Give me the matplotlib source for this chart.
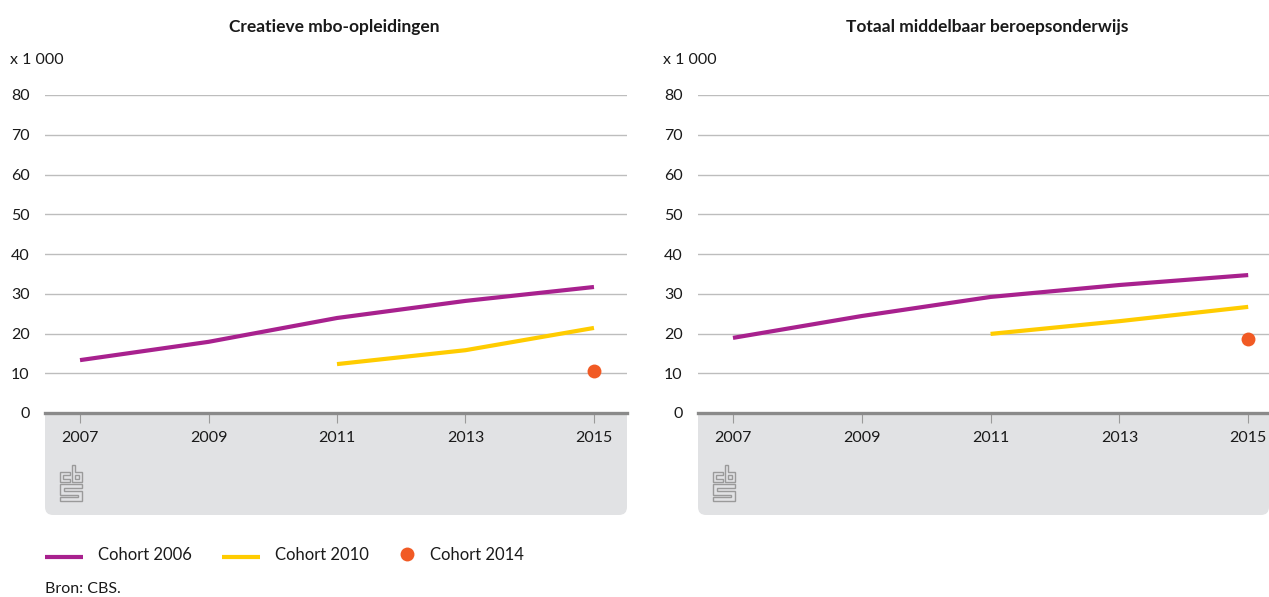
import matplotlib
matplotlib.use("Agg")
import matplotlib.pyplot as plt
from matplotlib.patches import FancyBboxPatch, Polygon
from matplotlib.lines import Line2D

plt.rcParams['font.family'] = ['Lato', 'DejaVu Sans']

W, H = 1269, 597

titles = ["Creatieve mbo-opleidingen", "Totaal middelbaar beroepsonderwijs"]
years_2006 = [2007, 2009, 2011, 2013, 2015]
years_2010 = [2011, 2013, 2015]
years_2014 = [2015]
cohort2006 = [[13.3, 17.9, 23.9, 28.2, 31.7], [18.9, 24.4, 29.2, 32.2, 34.7]]
cohort2010 = [[12.3, 15.8, 21.4], [19.9, 23.1, 26.7]]
cohort2014 = [[10.6], [18.6]]
labels = ["Cohort 2006", "Cohort 2010", "Cohort 2014"]
xticks = [2007, 2009, 2011, 2013, 2015]
yticks = [0, 10, 20, 30, 40, 50, 60, 70, 80]

PURPLE = "#a8218e"
YELLOW = "#ffcc00"
ORANGE = "#f15a24"
GREY_BOX = "#e1e2e4"
TEXT = "#1a1a1a"

fig = plt.figure(figsize=(W / 100, H / 100), dpi=100)

def fx(x):
    return x / W

def fy(y):
    return 1 - y / H

panels = [
    dict(x0=45, x1=627, xlim=(2006.455, 2015.514)),
    dict(x0=698, x1=1269, xlim=(2006.457, 2015.323)),
]
y_top, y_zero, box_bottom = 95, 413, 515

def draw_logo(ox, oy):
    # CBS logo outlines, pixel offsets from top-left of the "c"
    shapes = [
        [(0, 0), (10, 0), (10, 3), (3, 3), (3, 7), (10, 7), (10, 10), (0, 10)],
        [(12, -7), (15, -7), (15, 0), (22, 0), (22, 10), (12, 10)],
        [(15, 3), (19, 3), (19, 7), (15, 7)],
        [(0, 12), (22, 12), (22, 16), (4, 16), (4, 19), (22, 19), (22, 29), (0, 29),
         (0, 25), (18, 25), (18, 23), (0, 23)],
    ]
    for s in shapes:
        pts = [(fx(ox + a), fy(oy + b)) for a, b in s]
        fig.add_artist(Polygon(pts, closed=True, fill=False, edgecolor="#9a9a9a",
                               linewidth=1.0, transform=fig.transFigure))

for i, p in enumerate(panels):
    r = 8
    box = FancyBboxPatch((fx(p['x0']), fy(box_bottom)),
                         fx(p['x1'] - p['x0']), fy(y_zero) - fy(box_bottom),
                         boxstyle=f"round,pad=0,rounding_size={r / W}",
                         transform=fig.transFigure, facecolor=GREY_BOX,
                         edgecolor="none", zorder=0, mutation_aspect=W / H)
    fig.add_artist(box)
    fig.add_artist(plt.Rectangle((fx(p['x0']), fy(y_zero + 20)), fx(p['x1'] - p['x0']),
                                 fy(y_zero) - fy(y_zero + 20), transform=fig.transFigure,
                                 facecolor=GREY_BOX, edgecolor="none", zorder=0))

    ax = fig.add_axes([fx(p['x0']), fy(y_zero), fx(p['x1'] - p['x0']), fy(y_top) - fy(y_zero)])
    ax.set_facecolor("none")
    ax.set_xlim(*p['xlim'])
    ax.set_ylim(0, 80)
    for s in ax.spines.values():
        s.set_visible(False)
    ax.set_yticks(yticks)
    ax.set_yticklabels([str(v) for v in yticks])
    ax.yaxis.grid(True, color="#bdbdbd", linewidth=1.0)
    ax.set_axisbelow(True)
    ax.axhline(0, color="#8a8a8a", linewidth=2.4, zorder=2, clip_on=False)
    ax.tick_params(axis='y', length=0, pad=11, labelsize=11.5, labelcolor=TEXT)
    ax.set_xticks(xticks)
    ax.set_xticklabels([str(v) for v in xticks])
    ax.tick_params(axis='x', length=7, width=0.8, color="#9a9a9a", pad=6,
                   labelsize=11.5, labelcolor=TEXT)

    ax.plot(years_2006, cohort2006[i], color=PURPLE, linewidth=3.0,
            solid_capstyle='butt', zorder=3, clip_on=False)
    ax.plot(years_2010, cohort2010[i], color=YELLOW, linewidth=3.0,
            solid_capstyle='butt', zorder=3, clip_on=False)
    ax.plot(years_2014, cohort2014[i], 'o', color=ORANGE, markersize=10,
            markeredgewidth=0, zorder=4, clip_on=False)

    cx = 334 if i == 0 else 987
    fig.text(fx(cx), fy(27), titles[i], ha='center', va='center',
             fontsize=12.5, fontweight='bold', color=TEXT)
    fig.text(fx(p['x0'] - 35), fy(60), "x 1 000", ha='left', va='center',
             fontsize=11.5, color=TEXT)
    draw_logo(p['x0'] + 15, 472)

# legend, placed by hand
leg_items = [
    (45, 98, Line2D([], [], color=PURPLE, linewidth=3.0, solid_capstyle='butt')),
    (222, 275, Line2D([], [], color=YELLOW, linewidth=3.0, solid_capstyle='butt')),
    (400, 430, Line2D([], [], color=ORANGE, marker='o', linestyle='none', markersize=10,
                      markeredgewidth=0)),
]
for (hx, tx, proto), lab in zip(leg_items, labels):
    if proto.get_marker() == 'o':
        ln = Line2D([fx(407)], [fy(554)], transform=fig.transFigure)
    else:
        ln = Line2D([fx(hx), fx(hx + 38)], [fy(557), fy(557)], transform=fig.transFigure)
    ln.update_from(proto)
    ln.set_transform(fig.transFigure)
    fig.add_artist(ln)
    fig.text(fx(tx), fy(555), lab, ha='left', va='center', fontsize=12, color=TEXT)

fig.text(fx(45), fy(589), "Bron: CBS.", ha='left', va='center', fontsize=11.5, color=TEXT)

fig.savefig("out.png", dpi=100)
